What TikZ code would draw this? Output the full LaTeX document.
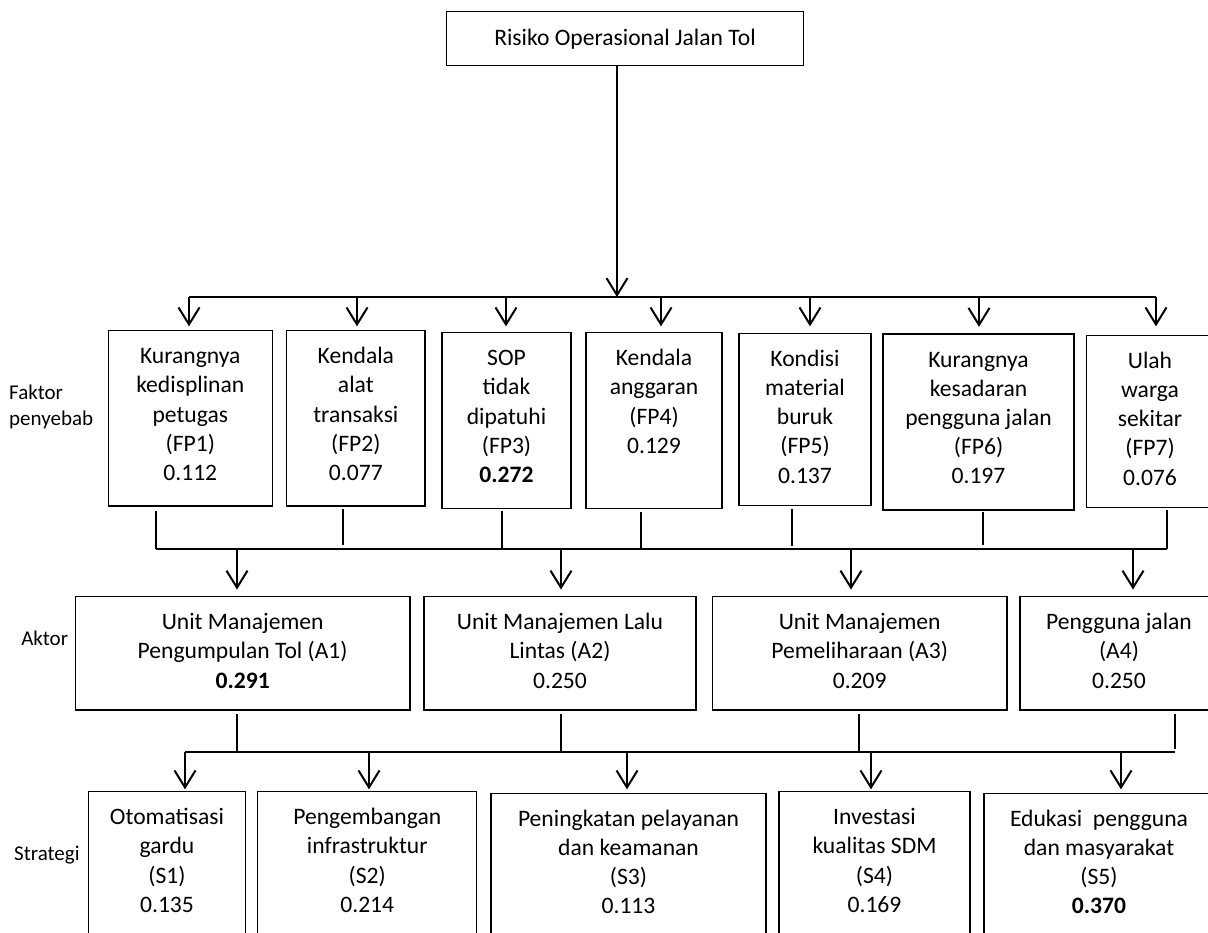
\documentclass[tikz,border=0pt]{standalone}
\usepackage{fontspec}
\setmainfont{Carlito}
\usetikzlibrary{arrows.meta}
\begin{document}
\begin{tikzpicture}[x=1pt,y=-1pt,
  box/.style={draw, line width=1.3pt, inner sep=0pt},
  txt/.style={font=\fontsize{23.6}{29.2}\selectfont, align=center, inner sep=0pt, anchor=north},
  lbl/.style={font=\fontsize{21}{25.5}\selectfont, align=left, inner sep=0pt},
  conn/.style={line width=2pt},
  arr/.style={line width=2pt, -{Straight Barb[length=17pt,width=21pt]}}]
\useasboundingbox (0,0) rectangle (1208,933);
\clip (0,0) rectangle (1208,933);

% ---------- boxes ----------
\node[box, minimum width=356.6pt, minimum height=54pt] (top) at (625,38.7) {};
\node[txt, anchor=base] (toptext) at (625,45.7) {Risiko Operasional Jalan Tol};

\node[box, minimum width=164pt,   minimum height=175.3pt] (fp1) at (190.3,418.35) {};
\node[box, minimum width=138.3pt, minimum height=175.3pt] (fp2) at (355.85,418.35) {};
\node[box, minimum width=129pt,   minimum height=176pt]   (fp3) at (506.5,420.7) {};
\node[box, minimum width=136pt,   minimum height=176pt]   (fp4) at (654,420.7) {};
\node[box, minimum width=132pt,   minimum height=172pt]   (fp5) at (805,419.3) {};
\node[box, minimum width=191pt,   minimum height=176pt]   (fp6) at (978.5,422) {};
\node[box, minimum width=126.6pt, minimum height=172.4pt] (fp7) at (1150,421.5) {};

\node[txt] (fp1t) at ([yshift=-13.1pt]fp1.north) {\strut Kurangnya\\kedisplinan\\petugas\\(FP1)\\0.112};
\node[txt] (fp2t) at ([yshift=-13.1pt]fp2.north) {\strut Kendala\\alat\\transaksi\\(FP2)\\0.077};
\node[txt] (fp3t) at ([yshift=-13.1pt]fp3.north) {\strut SOP\\tidak\\dipatuhi\\(FP3)\\\textbf{0.272}};
\node[txt] (fp4t) at ([yshift=-13.1pt]fp4.north) {\strut Kendala\\anggaran\\(FP4)\\0.129};
\node[txt] (fp5t) at ([yshift=-13.1pt]fp5.north) {\strut Kondisi\\material\\buruk\\(FP5)\\0.137};
\node[txt] (fp6t) at ([yshift=-13.1pt]fp6.north) {\strut Kurangnya\\kesadaran\\pengguna jalan\\(FP6)\\0.197};
\node[txt] (fp7t) at ([yshift=-13.1pt]fp7.north) {\strut Ulah\\warga\\sekitar\\(FP7)\\0.076};

\node[box, minimum width=334.7pt, minimum height=113.3pt] (a1) at (242.65,653.35) {};
\node[box, minimum width=272pt,   minimum height=113.3pt] (a2) at (560,653.35) {};
\node[box, minimum width=294.6pt, minimum height=113.3pt] (a3) at (859.7,653.35) {};
\node[box, minimum width=198pt,   minimum height=113.3pt] (a4) at (1119,653.35) {};

\node[txt] (a1t) at ([yshift=-13.1pt]a1.north) {\strut Unit Manajemen\\Pengumpulan Tol (A1)\\\textbf{0.291}};
\node[txt] (a2t) at ([yshift=-13.1pt]a2.north) {\strut Unit Manajemen Lalu\\Lintas (A2)\\0.250};
\node[txt] (a3t) at ([yshift=-13.1pt]a3.north) {\strut Unit Manajemen\\Pemeliharaan (A3)\\0.209};
\node[txt] (a4t) at ([yshift=-13.1pt]a4.north) {\strut Pengguna jalan\\(A4)\\0.250};

\node[box, minimum width=157.4pt, minimum height=158.3pt] (s1) at (167,870.85) {};
\node[box, minimum width=219.1pt, minimum height=158.3pt] (s2) at (367.25,870.85) {};
\node[box, minimum width=275pt,   minimum height=156.7pt] (s3) at (628.5,871.65) {};
\node[box, minimum width=191pt,   minimum height=158.3pt] (s4) at (874.5,870.85) {};
\node[box, minimum width=230pt,   minimum height=156.7pt] (s5) at (1099,871.65) {};

\node[txt] (s1t) at ([yshift=-13.1pt]s1.north) {\strut Otomatisasi\\gardu\\(S1)\\0.135};
\node[txt] (s2t) at ([yshift=-13.1pt]s2.north) {\strut Pengembangan\\infrastruktur\\(S2)\\0.214};
\node[txt] (s3t) at ([yshift=-13.1pt]s3.north) {\strut Peningkatan pelayanan\\dan keamanan\\(S3)\\0.113};
\node[txt] (s4t) at ([yshift=-13.1pt]s4.north) {\strut Investasi\\kualitas SDM\\(S4)\\0.169};
\node[txt] (s5t) at ([yshift=-13.1pt]s5.north) {\strut Edukasi\ \ pengguna\\dan masyarakat\\(S5)\\\textbf{0.370}};

% ---------- level labels ----------
\node[lbl, anchor=north west] (lfp) at (9,381.6) {\strut Faktor\\penyebab};
\node[lbl, anchor=base east] (lak) at (68.3,645.3) {Aktor};
\node[lbl, anchor=base west] (lst) at (14,860.2) {Strategi};

% ---------- level 1 -> 2 ----------
\coordinate (c0) at (617,297);
\coordinate (f1) at (189,297);
\coordinate (f2) at (357,297);
\coordinate (f3) at (506,297);
\coordinate (f4) at (661,297);
\coordinate (f5) at (810,297);
\coordinate (f6) at (979,297);
\coordinate (f7) at (1156,297);
\draw[conn] (f1) -- (f7);
\draw[arr] (c0 |- top.south) -- (c0);
\draw[arr, shorten >=3.7pt] (f1) -- (f1 |- fp1.north);
\draw[arr, shorten >=3.7pt] (f2) -- (f2 |- fp2.north);
\draw[arr, shorten >=5.7pt] (f3) -- (f3 |- fp3.north);
\draw[arr, shorten >=5.7pt] (f4) -- (f4 |- fp4.north);
\draw[arr, shorten >=6.3pt] (f5) -- (f5 |- fp5.north);
\draw[arr, shorten >=6.5pt] (f6) -- (f6 |- fp6.north);
\draw[arr, shorten >=8.3pt] (f7) -- (f7 |- fp7.north);

% ---------- level 2 -> 3 ----------
\coordinate (g1) at (156,549);
\coordinate (g2) at (343,549);
\coordinate (g3) at (502,549);
\coordinate (g4) at (641,549);
\coordinate (g5) at (792,549);
\coordinate (g6) at (983,549);
\coordinate (g7) at (1167,549);
\draw[conn] (g1) -- (g7);
\draw[conn, shorten <=4.7pt] (g1 |- fp1.south) -- (g1);
\draw[conn, shorten <=2.3pt, shorten >=3.6pt] (g2 |- fp2.south) -- (g2);
\draw[conn, shorten <=2pt, shorten >=1pt] (g3 |- fp3.south) -- (g3);
\draw[conn, shorten <=3pt, shorten >=1pt] (g4 |- fp4.south) -- (g4);
\draw[conn, shorten <=2.7pt, shorten >=2.6pt] (g5 |- fp5.south) -- (g5);
\draw[conn, shorten <=1.5pt, shorten >=4.3pt] (g6 |- fp6.south) -- (g6);
\draw[conn, shorten <=1.5pt] (g7 |- fp7.south) -- (g7);

\coordinate (h1) at (237,549);
\coordinate (h2) at (561,549);
\coordinate (h3) at (851,549);
\coordinate (h4) at (1133,549);
\draw[arr, shorten >=6.5pt] (h1) -- (h1 |- a1.north);
\draw[arr, shorten >=6.5pt] (h2) -- (h2 |- a2.north);
\draw[arr, shorten >=6.5pt] (h3) -- (h3 |- a3.north);
\draw[arr, shorten >=6.5pt] (h4) -- (h4 |- a4.north);

% ---------- level 3 -> 4 ----------
\coordinate (k1) at (237,752);
\coordinate (k2) at (561,752);
\coordinate (k3) at (859,752);
\coordinate (k4) at (1175,752);
\coordinate (m1) at (185,752);
\coordinate (m2) at (369,752);
\coordinate (m3) at (627,752);
\coordinate (m4) at (871,752);
\coordinate (m5) at (1121,752);
\draw[conn] (m1) -- (k4);
\draw[conn, shorten <=3.3pt] (k1 |- a1.south) -- (k1);
\draw[conn, shorten <=3.3pt] (k2 |- a2.south) -- (k2);
\draw[conn, shorten <=3.3pt] (k3 |- a3.south) -- (k3);
\draw[conn, shorten <=3.3pt, shorten >=3.4pt] (k4 |- a4.south) -- (k4);
\draw[arr, shorten >=1.7pt] (m1) -- (m1 |- s1.north);
\draw[arr, shorten >=1.7pt] (m2) -- (m2 |- s2.north);
\draw[arr, shorten >=3.3pt] (m3) -- (m3 |- s3.north);
\draw[arr, shorten >=1.7pt] (m4) -- (m4 |- s4.north);
\draw[arr, shorten >=3.3pt] (m5) -- (m5 |- s5.north);
\end{tikzpicture}
\end{document}
